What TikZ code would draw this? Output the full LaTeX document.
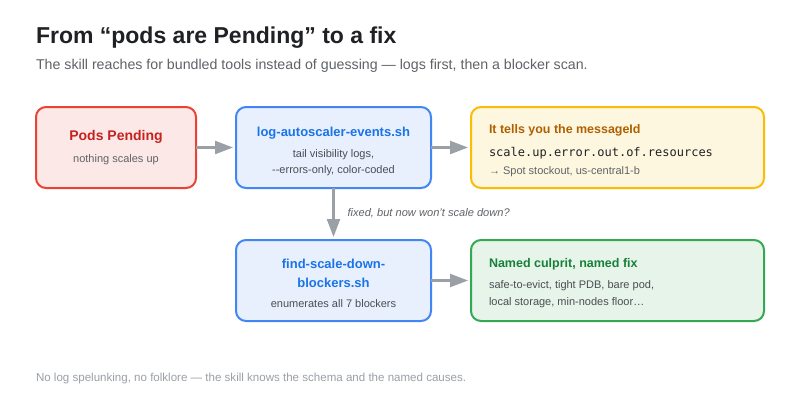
\documentclass[tikz,border=0pt]{standalone}
\usepackage{fontspec}
\setmainfont{Liberation Sans}
\newfontfamily\monof{DejaVu Sans Mono}
\usetikzlibrary{arrows.meta}
\definecolor{inkc}{HTML}{202124}
\definecolor{subc}{HTML}{5F6368}
\definecolor{bodyc}{HTML}{4A4E52}
\definecolor{softc}{HTML}{5F6368}
\definecolor{footc}{HTML}{9AA0A6}
\definecolor{arrowc}{HTML}{9AA0A6}
\definecolor{redb}{HTML}{EA4335}
\definecolor{redf}{HTML}{FCE8E6}
\definecolor{redt}{HTML}{C5221F}
\definecolor{blueb}{HTML}{4285F4}
\definecolor{bluef}{HTML}{E8F0FE}
\definecolor{bluet}{HTML}{1A73E8}
\definecolor{yelb}{HTML}{FBBC04}
\definecolor{yelf}{HTML}{FEF7E0}
\definecolor{yelt}{HTML}{B06000}
\definecolor{greb}{HTML}{34A853}
\definecolor{gref}{HTML}{E6F4EA}
\definecolor{gret}{HTML}{188038}
\tikzset{
  card/.style={rectangle,rounded corners=10pt,line width=2pt,inner sep=0pt,outer sep=0pt,minimum height=81pt},
  narrowcard/.style={card,minimum width=160pt},
  midcard/.style={card,minimum width=195pt},
  widecard/.style={card,minimum width=293pt},
  redcard/.style={draw=redb,fill=redf},
  bluecard/.style={draw=blueb,fill=bluef},
  yelcard/.style={draw=yelb,fill=yelf},
  grecard/.style={draw=greb,fill=gref},
  txt/.style={inner sep=0pt,outer sep=0pt},
  mid/.style={txt,anchor=base},
  lft/.style={txt,anchor=base west},
  head/.style={font=\fontsize{13}{15}\selectfont\bfseries},
  body/.style={font=\fontsize{11}{13}\selectfont,text=bodyc},
  soft/.style={font=\fontsize{11}{13}\selectfont,text=softc},
  flow/.style={draw=arrowc,line width=2.3pt,-{Triangle[length=18pt,width=13pt]},shorten >=3pt},
}
\begin{document}
\begin{tikzpicture}[x=1pt,y=-1pt]
\useasboundingbox[fill=white] (0,0) rectangle (800,418);
\node[lft,text=inkc,font=\fontsize{23}{28}\selectfont\bfseries] (title) at (36,43) {From “pods are Pending” to a fix};
\node[lft,text=subc,font=\fontsize{14.2}{16}\selectfont] (subtitle) at (36,69) {The skill reaches for bundled tools instead of guessing — logs first, then a blocker scan.};

\node[narrowcard,redcard] (pods) at (116,147.5) {};
\node[midcard,bluecard] (logs) at (333.5,147.5) {};
\node[widecard,yelcard] (msg) at (617.5,147.5) {};
\node[midcard,bluecard] (find) at (333.5,280.5) {};
\node[widecard,grecard] (fix) at (617.5,280.5) {};

\draw[flow] (pods.east) -- (logs.west);
\draw[flow] (logs.east) -- (msg.west);
\draw[flow] (logs.south) -- (find.north);
\draw[flow] (find.east) -- (fix.west);

\node[mid,text=redt,font=\fontsize{14}{16}\selectfont\bfseries] (t1) at (116,140.5) {Pods Pending};
\node[mid,soft] (b1) at (116,162) {nothing scales up};

\node[mid,head,text=bluet] (t2) at (333.5,136) {log-autoscaler-events.sh};
\node[mid,body] (b2a) at (333.5,157) {tail visibility logs,};
\node[mid,body] (b2b) at (333.5,173) {-{}-errors-only, color-coded};

\node[lft,text=yelt,font=\fontsize{12.45}{14}\selectfont\bfseries] (t3) at (489,133) {It tells you the messageId};
\node[lft,text=inkc,font=\fontsize{12}{14}\selectfont\monof] (b3a) at (489,156) {scale.up.error.out.of.resources};
\node[lft,soft] (b3b) at (489,174) {→ Spot stockout, us-central1-b};

\node[lft,text=subc,font=\fontsize{11.1}{13}\selectfont\itshape] (lab) at (347.5,216.5) {fixed, but now won't scale down?};

\node[mid,head,text=bluet] (t4a) at (333.5,268) {find-scale-down-};
\node[mid,head,text=bluet] (t4b) at (333.5,287) {blockers.sh};
\node[mid,body] (b4) at (333.5,307) {enumerates all 7 blockers};

\node[lft,text=gret,font=\fontsize{12.5}{15}\selectfont\bfseries] (t5) at (489,267) {Named culprit, named fix};
\node[lft,body] (b5a) at (489,288) {safe-to-evict, tight PDB, bare pod,};
\node[lft,body] (b5b) at (489,305) {local storage, min-nodes floor…};

\node[lft,text=footc,font=\fontsize{11.55}{13}\selectfont] (foot) at (36,381) {No log spelunking, no folklore — the skill knows the schema and the named causes.};
\end{tikzpicture}
\end{document}
